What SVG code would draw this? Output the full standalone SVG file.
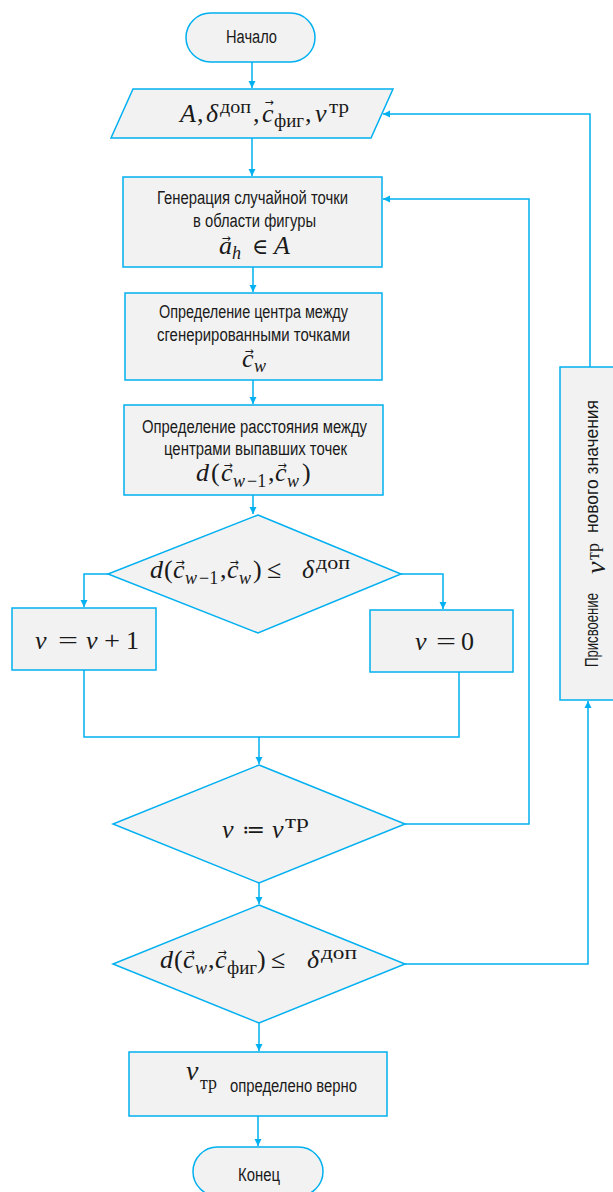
<svg xmlns="http://www.w3.org/2000/svg" width="613" height="1192" viewBox="0 0 613 1192">
<style>
.shape{fill:#F2F2F2;stroke:#00B0F0;stroke-width:1.5}
.conn{fill:none;stroke:#00B0F0;stroke-width:1.5}
.t{font-family:"Liberation Sans",Arial,sans-serif;font-size:18px;fill:#1a1a1a}
.m{font-family:"Liberation Serif","DejaVu Serif",serif;font-size:26px;fill:#1a1a1a}
.m .i{font-style:italic}
.m .s{font-size:18px}
.m .av{font-family:"DejaVu Sans",sans-serif;font-size:11px;font-style:normal}
</style>
<defs>
<marker id="arr" markerWidth="8" markerHeight="8" refX="7" refY="4" orient="auto" markerUnits="userSpaceOnUse">
<path d="M0,0.5 L7,4 L0,7.5 Z" fill="#00B0F0"/>
</marker>
</defs>
<g id="connectors">
<path class="conn" d="M252,62 V88" marker-end="url(#arr)"/>
<path class="conn" d="M252,138 V176" marker-end="url(#arr)"/>
<path class="conn" d="M253,267 V292" marker-end="url(#arr)"/>
<path class="conn" d="M253,380 V404" marker-end="url(#arr)"/>
<path class="conn" d="M253,495 V514" marker-end="url(#arr)"/>
<path class="conn" d="M108,574 H84 V607" marker-end="url(#arr)"/>
<path class="conn" d="M401,574 H443 V609" marker-end="url(#arr)"/>
<path class="conn" d="M84,670 V737 H459 V672"/>
<path class="conn" d="M259,737 V764" marker-end="url(#arr)"/>
<path class="conn" d="M405,824 H529 V199 H383" marker-end="url(#arr)"/>
<path class="conn" d="M259,883 V904" marker-end="url(#arr)"/>
<path class="conn" d="M405,964 H588 V701" marker-end="url(#arr)"/>
<path class="conn" d="M590,367 V114 H383" marker-end="url(#arr)"/>
<path class="conn" d="M259,1023 V1051" marker-end="url(#arr)"/>
<path class="conn" d="M258,1116 V1146" marker-end="url(#arr)"/>
</g>
<g id="start">
<rect class="shape" x="186" y="13" width="129" height="49" rx="24.5"/>
<text class="t" x="226" y="43" textLength="51" lengthAdjust="spacingAndGlyphs">Начало</text>
</g>
<g id="input">
<polygon class="shape" points="133,89 393,89 371,138 111,138"/>
<text class="m"><tspan class="i" x="180" y="122">A</tspan><tspan x="197" y="122">,</tspan><tspan class="i" x="206" y="122">δ</tspan><tspan class="s" x="220" y="113" textLength="31" lengthAdjust="spacingAndGlyphs">доп</tspan><tspan x="253" y="122">,</tspan><tspan class="i" x="262" y="122">c</tspan><tspan class="av" x="264.4" y="106">→</tspan><tspan class="s" x="274" y="127" textLength="30" lengthAdjust="spacingAndGlyphs">фиг</tspan><tspan x="305" y="122">,</tspan><tspan class="i" x="315" y="122">v</tspan><tspan class="s" x="329" y="113" textLength="20" lengthAdjust="spacingAndGlyphs">тр</tspan></text>
</g>
<g id="gen">
<rect class="shape" x="123" y="177" width="259" height="90"/>
<text class="t" x="157" y="204" textLength="191" lengthAdjust="spacingAndGlyphs">Генерация случайной точки</text>
<text class="t" x="193" y="227" textLength="123" lengthAdjust="spacingAndGlyphs">в области фигуры</text>
<text class="m"><tspan class="i" x="219" y="254">a</tspan><tspan class="av" x="221.4" y="242">→</tspan><tspan class="s i" x="232" y="259">h</tspan><tspan x="252" y="254" font-size="22">∈</tspan><tspan class="i" x="274" y="254">A</tspan></text>
</g>
<g id="center">
<rect class="shape" x="125" y="293" width="257" height="87"/>
<text class="t" x="159" y="318" textLength="189" lengthAdjust="spacingAndGlyphs">Определение центра между</text>
<text class="t" x="157" y="341" textLength="193" lengthAdjust="spacingAndGlyphs">сгенерированными точками</text>
<text class="m"><tspan class="i" x="242" y="367">c</tspan><tspan class="av" x="244.4" y="355">→</tspan><tspan class="s i" x="254" y="372">w</tspan></text>
</g>
<g id="dist">
<rect class="shape" x="124" y="405" width="259" height="90"/>
<text class="t" x="142" y="433" textLength="225" lengthAdjust="spacingAndGlyphs">Определение расстояния между</text>
<text class="t" x="164" y="455" textLength="183" lengthAdjust="spacingAndGlyphs">центрами выпавших точек</text>
<text class="m"><tspan class="i" x="196" y="481">d</tspan><tspan x="211" y="481">(</tspan><tspan class="i" x="221" y="481">c</tspan><tspan class="av" x="223.4" y="469">→</tspan><tspan class="s i" x="233" y="487">w</tspan><tspan class="s" x="247" y="487">−1</tspan><tspan x="268" y="481">,</tspan><tspan class="i" x="275" y="481">c</tspan><tspan class="av" x="277.4" y="469">→</tspan><tspan class="s i" x="287" y="487">w</tspan><tspan x="302" y="481">)</tspan></text>
</g>
<g id="cond1">
<polygon class="shape" points="258,515 401,574 258,633 108,574"/>
<text class="m"><tspan class="i" x="150" y="578">d</tspan><tspan x="164" y="578">(</tspan><tspan class="i" x="173" y="578">c</tspan><tspan class="av" x="175.4" y="566">→</tspan><tspan class="s i" x="185" y="584">w</tspan><tspan class="s" x="199" y="584">−1</tspan><tspan x="220" y="578">,</tspan><tspan class="i" x="227" y="578">c</tspan><tspan class="av" x="229.4" y="566">→</tspan><tspan class="s i" x="239" y="584">w</tspan><tspan x="253" y="578">)</tspan><tspan x="267" y="578">≤</tspan><tspan class="i" x="302" y="578">δ</tspan><tspan class="s" x="316" y="569" textLength="34" lengthAdjust="spacingAndGlyphs">доп</tspan></text>
</g>
<g id="inc">
<rect class="shape" x="12" y="608" width="144" height="62"/>
<text class="m" font-size="28"><tspan class="i" x="35" y="649">v</tspan><tspan x="58" y="649" textLength="20" lengthAdjust="spacingAndGlyphs">=</tspan><tspan class="i" x="86" y="649">v</tspan><tspan x="104" y="649" textLength="16" lengthAdjust="spacingAndGlyphs">+</tspan><tspan x="126" y="649">1</tspan></text>
</g>
<g id="reset">
<rect class="shape" x="370" y="610" width="143" height="62"/>
<text class="m" font-size="28"><tspan class="i" x="415" y="650">v</tspan><tspan x="436" y="650" textLength="20" lengthAdjust="spacingAndGlyphs">=</tspan><tspan x="461" y="650">0</tspan></text>
</g>
<g id="cond2">
<polygon class="shape" points="259,765 405,824 259,883 113,824"/>
<text class="m"><tspan class="i" x="222" y="838">v</tspan><tspan x="242" y="837" font-size="22">≔</tspan><tspan class="i" x="272" y="838">v</tspan><tspan class="s" x="285" y="828" textLength="24" lengthAdjust="spacingAndGlyphs">тр</tspan></text>
</g>
<g id="cond3">
<polygon class="shape" points="259,905 405,964 259,1023 113,964"/>
<text class="m"><tspan class="i" x="160" y="968">d</tspan><tspan x="174" y="968">(</tspan><tspan class="i" x="183" y="968">c</tspan><tspan class="av" x="185.4" y="956">→</tspan><tspan class="s i" x="195" y="974">w</tspan><tspan x="208" y="968">,</tspan><tspan class="i" x="215" y="968">c</tspan><tspan class="av" x="217.4" y="956">→</tspan><tspan class="s" x="227" y="974" textLength="30" lengthAdjust="spacingAndGlyphs">фиг</tspan><tspan x="257" y="968">)</tspan><tspan x="271" y="968">≤</tspan><tspan class="i" x="307" y="968">δ</tspan><tspan class="s" x="321" y="959" textLength="36" lengthAdjust="spacingAndGlyphs">доп</tspan></text>
</g>
<g id="assign">
<rect class="shape" x="560" y="367" width="80" height="333"/>
<text class="t" transform="translate(598,667) rotate(-90)" textLength="74" lengthAdjust="spacingAndGlyphs">Присвоение</text>
<text class="m" transform="translate(605,574) rotate(-90)"><tspan class="i" font-size="28">v</tspan><tspan class="s" x="14" y="-6">тр</tspan></text>
<text class="t" transform="translate(598,533) rotate(-90)" textLength="133" lengthAdjust="spacingAndGlyphs">нового значения</text>
</g>
<g id="result">
<rect class="shape" x="129" y="1052" width="258" height="64"/>
<text class="m"><tspan class="i" x="186" y="1080" font-size="28">v</tspan><tspan class="s" x="200" y="1089" textLength="17" lengthAdjust="spacingAndGlyphs">тр</tspan></text>
<text class="t" x="230" y="1092" textLength="127" lengthAdjust="spacingAndGlyphs">определено верно</text>
</g>
<g id="end">
<rect class="shape" x="193" y="1147" width="130" height="49" rx="24.5"/>
<text class="t" x="238" y="1181" textLength="42" lengthAdjust="spacingAndGlyphs">Конец</text>
</g>
</svg>
